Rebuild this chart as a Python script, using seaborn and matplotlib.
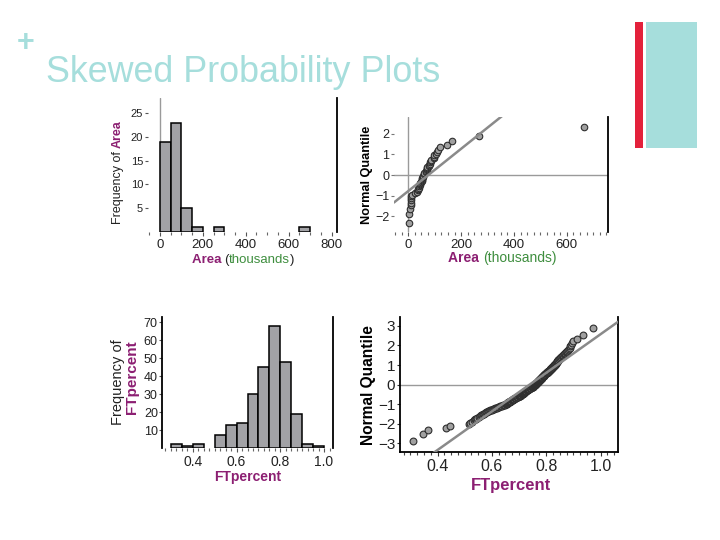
import numpy as np
import pandas as pd
import matplotlib
matplotlib.use("Agg")
import matplotlib.pyplot as plt
from matplotlib.patches import Rectangle
from matplotlib.ticker import MultipleLocator
import seaborn as sns
from statistics import NormalDist

# ---------------- data ----------------
# area of the 50 US states (thousands of sq. mi)
area_thousands = [52.4, 665.4, 114.0, 53.2, 163.7, 104.1, 5.5, 2.5, 65.8, 59.4,
                  10.9, 83.6, 57.9, 36.4, 56.3, 82.3, 40.4, 52.4, 35.4, 12.4,
                  10.6, 96.7, 86.9, 48.4, 69.7, 147.0, 77.3, 110.6, 9.3, 8.7,
                  121.6, 54.6, 53.8, 70.7, 44.8, 69.9, 98.4, 46.1, 1.5, 32.0,
                  77.1, 42.1, 268.6, 84.9, 9.6, 42.8, 71.3, 24.2, 65.5, 97.8]

# free throw percentages (252 players)
ft_percent = [
    0.310, 0.345, 0.365, 0.430, 0.445,
    0.515, 0.521, 0.528, 0.534, 0.538, 0.543, 0.547,
    0.552, 0.556, 0.559, 0.563, 0.567, 0.571, 0.574, 0.578, 0.582, 0.585, 0.589, 0.593, 0.597,
    0.601, 0.604, 0.608, 0.611, 0.615, 0.618, 0.622, 0.625, 0.629, 0.632, 0.636, 0.640, 0.643, 0.647,
    0.651, 0.652, 0.654, 0.655, 0.657, 0.659, 0.660, 0.662, 0.663, 0.665, 0.667, 0.668, 0.670, 0.671,
    0.673, 0.675, 0.676, 0.678, 0.679, 0.681, 0.683, 0.684, 0.686, 0.687, 0.689, 0.691, 0.692, 0.694,
    0.696, 0.698,
    0.701, 0.702, 0.703, 0.704, 0.705, 0.706, 0.707, 0.708, 0.709, 0.710, 0.711, 0.712, 0.713, 0.714,
    0.715, 0.716, 0.717, 0.718, 0.719, 0.720, 0.721, 0.722, 0.723, 0.724, 0.725, 0.726, 0.727, 0.728,
    0.729, 0.730, 0.731, 0.732, 0.733, 0.734, 0.735, 0.737, 0.738, 0.739, 0.741, 0.742, 0.743, 0.745,
    0.746, 0.747, 0.749,
    0.751, 0.751, 0.751, 0.752, 0.753, 0.753, 0.754, 0.755, 0.756, 0.756,
    0.757, 0.758, 0.758, 0.759, 0.760, 0.761, 0.761, 0.762, 0.763, 0.763,
    0.764, 0.765, 0.766, 0.766, 0.767, 0.768, 0.768, 0.769, 0.770, 0.771,
    0.771, 0.772, 0.773, 0.773, 0.774, 0.775, 0.776, 0.776, 0.777, 0.778,
    0.778, 0.779, 0.780, 0.781, 0.781, 0.782, 0.783, 0.783, 0.784, 0.785,
    0.786, 0.786, 0.787, 0.788, 0.788, 0.789, 0.790, 0.791, 0.791, 0.792,
    0.793, 0.793, 0.794, 0.795, 0.796, 0.797, 0.798, 0.799,
    0.801, 0.802, 0.803, 0.804, 0.805, 0.806, 0.807, 0.808, 0.809, 0.810,
    0.811, 0.812, 0.813, 0.814, 0.815, 0.816, 0.817, 0.818, 0.819, 0.820,
    0.821, 0.822, 0.823, 0.824, 0.825, 0.826, 0.827, 0.828, 0.829, 0.830,
    0.831, 0.832, 0.833, 0.834, 0.835, 0.836, 0.837, 0.838, 0.839, 0.840,
    0.841, 0.842, 0.843, 0.844, 0.845, 0.846, 0.847, 0.849,
    0.851, 0.853, 0.855, 0.858, 0.860, 0.863, 0.865, 0.868, 0.870, 0.873,
    0.875, 0.878, 0.880, 0.883, 0.886, 0.889, 0.892, 0.895, 0.898,
    0.915, 0.935,
    0.972,
]

area_bins = [0, 50, 100, 150, 200, 250, 300, 350, 400, 450, 500, 550, 600, 650, 700, 750, 800]
ft_bins = [0.30, 0.35, 0.40, 0.45, 0.50, 0.55, 0.60, 0.65, 0.70, 0.75, 0.80, 0.85, 0.90, 0.95, 1.00]

area_hist_xticks = [0, 200, 400, 600, 800]
area_hist_yticks = [5, 10, 15, 20, 25]
area_qq_xticks = [0, 200, 400, 600]
area_qq_yticks = [-2, -1, 0, 1, 2]
ft_xticks = [0.4, 0.6, 0.8, 1.0]
ft_xticklabels = ["0.4", "0.6", "0.8", "1.0"]
ft_hist_yticks = [10, 20, 30, 40, 50, 60, 70]
ft_qq_yticks = [-3, -2, -1, 0, 1, 2, 3]

TITLE = "Skewed Probability Plots"
PURPLE = "#8C1F72"
GREEN = "#3E8E3E"
TEAL = "#A6DEDC"
RED = "#E3213B"
BAR = "#A2A2A6"
DARK = "#222222"
GRAYLINE = "#9A9A9A"

# ---------------- setup ----------------
sns.set_theme(style="white")
plt.rcParams['font.family'] = ['Liberation Sans', 'DejaVu Sans']

W, H = 720, 540
fig = plt.figure(figsize=(7.2, 5.4), dpi=100)
fig.patch.set_facecolor("white")
renderer = fig.canvas.get_renderer()


def px_axes(x0, y0, x1, y1):
    return fig.add_axes([x0 / W, 1 - y1 / H, (x1 - x0) / W, (y1 - y0) / H])


def measure(s, props):
    t = fig.text(0, 0, s + "|", **props)
    w1 = t.get_window_extent(renderer).width
    t.set_text("|")
    w2 = t.get_window_extent(renderer).width
    t.remove()
    return w1 - w2


def run_text(xc, yc, pieces, base, rotation=0):
    widths = [measure(s, {**base, **p}) for s, p in pieces]
    total = sum(widths)
    pos = -total / 2
    for (s, p), w in zip(pieces, widths):
        props = {**base, **p}
        if rotation == 0:
            fig.text((xc + pos) / W, 1 - yc / H, s, ha='left', va='baseline', **props)
        else:
            fig.text(xc / W, 1 - (yc - pos) / H, s, rotation=90, rotation_mode='anchor',
                     ha='left', va='baseline', **props)
        pos += w


def normal_quantiles(n):
    nd = NormalDist()
    return [nd.inv_cdf((i - 0.5) / n) for i in range(1, n + 1)]


def style_spines(ax, left=False, bottom=False, right=True):
    for side in ["top", "left", "bottom", "right"]:
        ax.spines[side].set_visible(False)
    if right:
        ax.spines["right"].set_visible(True)
        ax.spines["right"].set_color("black")
        ax.spines["right"].set_linewidth(1.3)
    if left:
        ax.spines["left"].set_visible(True)
        ax.spines["left"].set_color("black")
        ax.spines["left"].set_linewidth(1.3)
    if bottom:
        ax.spines["bottom"].set_visible(True)
        ax.spines["bottom"].set_color("black")
        ax.spines["bottom"].set_linewidth(1.3)


def drop_empty(ax):
    for p in list(ax.patches):
        if p.get_height() == 0:
            p.remove()


# ---------------- top-left: histogram of Area ----------------
ax1 = px_axes(148, 98, 337, 232)
sns.histplot(x=area_thousands, bins=area_bins, ax=ax1, color=BAR, edgecolor="black",
             linewidth=1.1, alpha=1)
drop_empty(ax1)
ax1.set_xlim(-55, 825)
ax1.set_ylim(0, 28.2)
ax1.axvline(0, color=GRAYLINE, lw=1.0, zorder=0)
style_spines(ax1)
ax1.set_xticks(area_hist_xticks)
ax1.xaxis.set_minor_locator(MultipleLocator(50))
ax1.set_yticks(area_hist_yticks)
ax1.tick_params(axis="x", which="major", bottom=True, length=3, width=0.8, color="#555",
                labelsize=9.5, labelcolor=DARK, pad=2)
ax1.tick_params(axis="x", which="minor", bottom=True, length=2, width=0.8, color="#666")
ax1.tick_params(axis="y", left=True, length=2.5, width=0.8, color="#555", labelsize=8,
                labelcolor=DARK, pad=1)
ax1.set_xlabel("")
ax1.set_ylabel("")

# ---------------- top-right: normal quantile plot of Area ----------------
ax2 = px_axes(394, 117, 608, 232)
ax2.set_xlim(-54, 756)
ax2.set_ylim(-2.77, 2.82)
ax2.axhline(0, color=GRAYLINE, lw=1.0, zorder=0)
ax2.axvline(0, color=GRAYLINE, lw=1.0, zorder=0)
area_sorted = sorted(area_thousands)
area_q = normal_quantiles(len(area_sorted))
a_mean = float(np.mean(area_thousands))
a_sd = float(np.std(area_thousands, ddof=1))
xl2 = np.array(ax2.get_xlim())
sns.lineplot(x=xl2, y=(xl2 - a_mean) / a_sd, ax=ax2, color="#8A8A8A", lw=1.8, zorder=5)
sns.scatterplot(x=area_sorted, y=area_q, ax=ax2, s=22, color="#A0A0A0", edgecolor="#2E2E2E",
                linewidth=0.8, zorder=4)
ax2.set_xlim(-54, 756)
ax2.set_ylim(-2.77, 2.82)
style_spines(ax2)
ax2.set_xticks(area_qq_xticks)
ax2.xaxis.set_minor_locator(MultipleLocator(25))
ax2.set_yticks(area_qq_yticks)
ax2.tick_params(axis="x", which="major", bottom=True, length=3, width=0.8, color="#555",
                labelsize=9.5, labelcolor=DARK, pad=2)
ax2.tick_params(axis="x", which="minor", bottom=True, length=2, width=0.8, color="#666")
ax2.tick_params(axis="y", left=True, length=2.5, width=0.8, color="#777", labelsize=9,
                labelcolor=DARK, pad=1)
ax2.set_xlabel("")
ax2.set_ylabel("")

# ---------------- bottom-left: histogram of FTpercent ----------------
ax3 = px_axes(162, 317, 333, 448)
sns.histplot(x=ft_percent, bins=ft_bins, ax=ax3, color=BAR, edgecolor="black",
             linewidth=1.1, alpha=1)
drop_empty(ax3)
ax3.set_xlim(0.259, 1.041)
ax3.set_ylim(0, 73)
style_spines(ax3, left=True)
ax3.set_xticks(ft_xticks)
ax3.set_xticklabels(ft_xticklabels)
ax3.xaxis.set_minor_locator(MultipleLocator(0.025))
ax3.set_yticks(ft_hist_yticks)
ax3.tick_params(axis="x", which="major", bottom=True, length=3, width=0.8, color="#555",
                labelsize=10, labelcolor=DARK, pad=2)
ax3.tick_params(axis="x", which="minor", bottom=True, length=2, width=0.8, color="#666")
ax3.tick_params(axis="y", left=True, length=2.5, width=0.8, color="#555", labelsize=9,
                labelcolor=DARK, pad=0.5)
ax3.set_xlabel("")
ax3.set_ylabel("")

# ---------------- bottom-right: normal quantile plot of FTpercent ----------------
ax4 = px_axes(400, 317, 618, 452)
ax4.set_xlim(0.262, 1.064)
ax4.set_ylim(-3.44, 3.45)
ax4.axhline(0, color=GRAYLINE, lw=1.0, zorder=0)
ft_sorted = sorted(ft_percent)
ft_q = normal_quantiles(len(ft_sorted))
f_mean = float(np.mean(ft_percent))
f_sd = float(np.std(ft_percent, ddof=1))
xl4 = np.array(ax4.get_xlim())
sns.lineplot(x=xl4, y=(xl4 - f_mean) / f_sd, ax=ax4, color="#8A8A8A", lw=1.8, zorder=5)
sns.scatterplot(x=ft_sorted, y=ft_q, ax=ax4, s=24, color="#A0A0A0", edgecolor="#2E2E2E",
                linewidth=0.8, zorder=4)
ax4.set_xlim(0.262, 1.064)
ax4.set_ylim(-3.44, 3.45)
style_spines(ax4, left=True, bottom=True)
ax4.set_xticks(ft_xticks)
ax4.set_xticklabels(ft_xticklabels)
ax4.xaxis.set_minor_locator(MultipleLocator(0.025))
ax4.set_yticks(ft_qq_yticks)
ax4.tick_params(axis="x", which="major", bottom=True, length=3, width=0.8, color="#333",
                labelsize=11.5, labelcolor=DARK, pad=2)
ax4.tick_params(axis="x", which="minor", bottom=True, length=2, width=0.8, color="#444")
ax4.tick_params(axis="y", left=True, length=2.5, width=0.8, color="#333", labelsize=11,
                labelcolor=DARK, pad=1)
ax4.set_xlabel("")
ax4.set_ylabel("")

# ---------------- axis labels (multi-coloured) ----------------
bold_purple = {"fontweight": "bold", "color": PURPLE}
run_text(121, 172, [("Frequency of ", {}), ("Area", bold_purple)],
         {"fontsize": 9, "color": DARK}, rotation=90)
run_text(243, 263, [("Area ", bold_purple), ("(", {}), ("thousands", {"color": GREEN}), (")", {})],
         {"fontsize": 9.5, "color": DARK})
run_text(370, 175, [("Normal Quantile", {"fontweight": "bold"})],
         {"fontsize": 9.2, "color": "black"}, rotation=90)
run_text(502, 262, [("Area ", bold_purple), ("(thousands)", {"color": GREEN})],
         {"fontsize": 10, "color": DARK})
run_text(122, 382.5, [("Frequency of", {})], {"fontsize": 10.5, "color": DARK}, rotation=90)
run_text(136, 377.5, [("FTpercent", bold_purple)], {"fontsize": 11}, rotation=90)
run_text(248, 481, [("FTpercent", bold_purple)], {"fontsize": 10})
run_text(373, 385, [("Normal Quantile", {"fontweight": "bold"})],
         {"fontsize": 11.2, "color": "black"}, rotation=90)
run_text(511, 490, [("FTpercent", bold_purple)], {"fontsize": 12})

# ---------------- slide decorations ----------------
fig.text(46 / W, 1 - 81.5 / H, TITLE, fontsize=25.8, color=TEAL, ha="left", va="baseline")
fig.text(26 / W, 1 - 51 / H, "+", fontsize=22, fontweight="bold", color=TEAL,
         ha="center", va="baseline")
fig.add_artist(Rectangle((635 / W, 1 - 148 / H), 8 / W, 126 / H, transform=fig.transFigure,
                         facecolor=RED, edgecolor="none"))
fig.add_artist(Rectangle((646 / W, 1 - 148 / H), 51 / W, 126 / H, transform=fig.transFigure,
                         facecolor=TEAL, edgecolor="none"))

fig.savefig("out.png", dpi=100, facecolor="white")
